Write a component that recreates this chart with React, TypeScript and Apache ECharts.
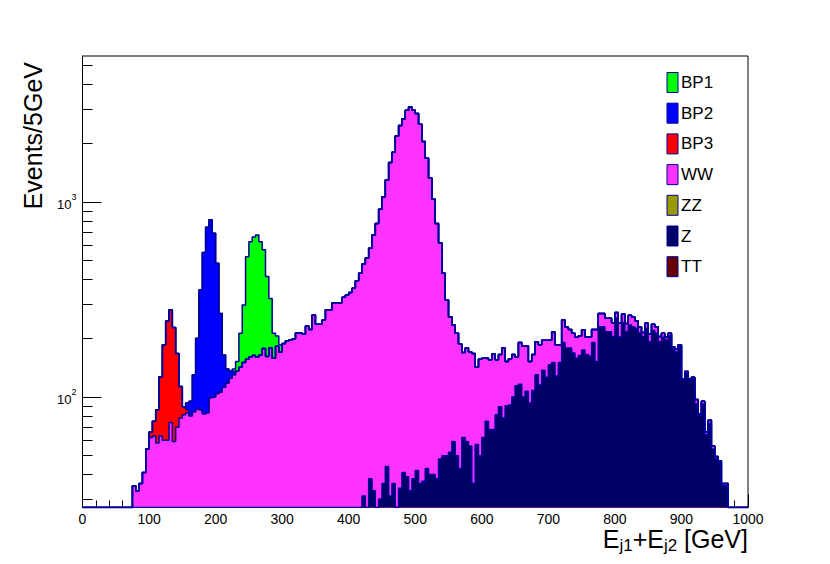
import React, { useEffect, useRef } from 'react';
import * as echarts from 'echarts';

// ---------------- data (5 GeV bins, bin k covers [5k, 5k+5) GeV) ----------------
const BIN_WIDTH = 5;
const N_BINS = 200;
const X_MIN = 0;
const X_MAX = 1000;
const Y_MIN = 27.1;
const Y_MAX = 5600;

const yMajorTicks = [100, 1000];
const yMinorTicks = [30, 40, 50, 60, 70, 80, 90, 200, 300, 400, 500, 600, 700, 800, 900, 2000, 3000, 4000, 5000];

const bp1Start = 45;
const bp1 = [4, 16, 70, 146, 368, 465, 497, 517, 461, 391, 253, 142, 54, 23, 15];

const bp2Start = 31;
const bp2 = [7, 15, 46, 113, 268, 469, 659, 711, 590, 380, 162, 52, 21, 11, 5];

const bp3Start = 20;
const bp3 = [4, 12, 28, 64, 125, 185, 206, 168, 97, 35, 8, 3];

const wwStart = 15;
const ww = [
  35, 33, 36, 41, 54, 62, 63, 58, 63, 60,
  60, 74, 59, 70, 78, 81, 83, 80, 84, 87,
  86, 82, 83, 99, 100, 104, 106, 112, 118, 125,
  130, 136, 142, 150, 156, 160, 163, 160, 164, 177,
  161, 178, 158, 182, 170, 188, 194, 196, 198, 213,
  213, 210, 231, 222, 263, 236, 236, 248, 280, 280,
  304, 304, 304, 324, 333, 343, 361, 394, 431, 450,
  515, 540, 644, 776, 887, 1028, 1252, 1563, 1762, 2179,
  2431, 2629, 2911, 3037, 2912, 2798, 2464, 2003, 1629, 1286,
  992, 738, 569, 381, 264, 206, 175, 162, 144, 107,
  119, 114, 131, 85, 106, 96, 83, 87, 98, 74,
  76, 100, 62, 66, 65, 46, 74, 82, 76, 59,
  57, 62, 70, 58, 69, 49, 65, 57, 35, 58,
  50, 44, 44, 44, 42, 47, 38, 41, 32, 70,
  39, 39, 37, 37, 36, 17, 37, 26, 22, 28,
  29, 21, 15, 10, 14, 18, 17, 17, 12, 10,
  7, 6, 3, 6, 4, 2, 3, 2, 2, 5,
  2, 3, 2, 3, 2, 1.5, 1, 1, 1,
];

const zzStart = 0;
const zz: number[] = [];

const zStart = 84;
const z = [
  31, 0, 38, 33, 0, 30, 36, 44, 31, 36,
  0, 34, 41, 39, 33, 38, 42, 36, 37, 43,
  40, 40, 38, 48, 50, 50, 52, 59, 50, 43,
  62, 59, 56, 36, 57, 50, 62, 75, 68, 68,
  81, 89, 78, 90, 91, 100, 114, 116, 100, 107,
  93, 108, 130, 115, 137, 126, 146, 150, 128, 150,
  190, 178, 178, 168, 158, 163, 174, 165, 162, 190,
  152, 229, 229, 216, 216, 204, 254, 203, 240, 216,
  234, 228, 225, 213, 204, 225, 192, 219, 212, 192,
  202, 196, 206, 178, 170, 181, 122, 132, 122, 124,
  92, 80, 92, 64, 73, 54, 48, 46, 35, 35,
];

const ttStart = 0;
const tt: number[] = [];

// stacking order, bottom first
const stackNames = ['Z', 'ZZ', 'TT', 'WW', 'BP3', 'BP2', 'BP1'];
const stackValues = [z, zz, tt, ww, bp3, bp2, bp1];
const stackStarts = [zStart, zzStart, ttStart, wwStart, bp3Start, bp2Start, bp1Start];

const legendNames = ['BP1', 'BP2', 'BP3', 'WW', 'ZZ', 'Z', 'TT'];
const fillColors: Record<string, string> = {
  BP1: '#00ff00',
  BP2: '#0000ff',
  BP3: '#ff0000',
  WW: '#ff33ff',
  ZZ: '#999900',
  Z: '#000066',
  TT: '#660000',
};
const OUTLINE = '#000099';
const FONT = '"Liberation Sans", Arial, Helvetica, sans-serif';

function expand(values: number[], start: number): number[] {
  const out = new Array(N_BINS).fill(0);
  values.forEach((v, i) => {
    out[start + i] = v;
  });
  return out;
}

function stepPoints(cum: number[]): [number, number][] {
  const f = (v: number) => Math.max(v, Y_MIN);
  const pts: [number, number][] = [[X_MIN, Y_MIN]];
  cum.forEach((v, i) => pts.push([i * BIN_WIDTH, f(v)]));
  pts.push([N_BINS * BIN_WIDTH, f(cum[N_BINS - 1])]);
  pts.push([N_BINS * BIN_WIDTH, Y_MIN]);
  return pts;
}

function buildOption() {
  // cumulative layers
  const layers: { name: string; cum: number[]; empty: boolean }[] = [];
  let running = new Array(N_BINS).fill(0);
  stackNames.forEach((name, idx) => {
    const comp = expand(stackValues[idx], stackStarts[idx]);
    running = running.map((v, i) => v + comp[i]);
    layers.push({ name, cum: running.slice(), empty: stackValues[idx].length === 0 });
  });

  const series = layers
    .filter((l) => !l.empty)
    .reverse()
    .map((l) => ({
      type: 'line',
      name: l.name,
      data: stepPoints(l.cum),
      step: 'end',
      symbol: 'none',
      showSymbol: false,
      clip: true,
      silent: true,
      animation: false,
      lineStyle: { color: OUTLINE, width: 1.5 },
      areaStyle: { color: fillColors[l.name], opacity: 1, origin: 'start' },
      itemStyle: { color: fillColors[l.name] },
      emphasis: { disabled: true },
      z: 2,
    }));

  const legendGraphics: any[] = [];
  legendNames.forEach((name, i) => {
    const cy = 82.5 + i * 30.7;
    legendGraphics.push({
      type: 'rect',
      shape: { x: 667, y: cy - 10, width: 11, height: 20 },
      style: { fill: fillColors[name], stroke: OUTLINE, lineWidth: 1 },
      z: 10,
    });
    legendGraphics.push({
      type: 'text',
      x: 681,
      y: cy,
      style: {
        text: name,
        fill: '#000',
        fontSize: 17,
        fontFamily: FONT,
        align: 'left',
        verticalAlign: 'middle',
      },
      z: 10,
    });
  });

  return {
    animation: false,
    backgroundColor: '#ffffff',
    grid: {
      left: 82.5,
      right: 82,
      top: 56,
      bottom: 56.5,
      show: true,
      borderColor: '#000',
      borderWidth: 1,
      backgroundColor: 'transparent',
      containLabel: false,
      outerBoundsMode: 'none',
    },
    xAxis: {
      type: 'value',
      min: X_MIN,
      max: X_MAX,
      interval: 100,
      axisLine: { show: true, lineStyle: { color: '#000', width: 1 } },
      axisTick: { show: true, inside: true, length: 13, lineStyle: { color: '#000' } },
      minorTick: { show: true, splitNumber: 5, length: 7, lineStyle: { color: '#000' } },
      splitLine: { show: false },
      axisLabel: {
        color: '#000',
        fontSize: 14,
        lineHeight: 14,
        fontFamily: FONT,
        margin: 4,
        showMinLabel: true,
        showMaxLabel: true,
        formatter: (v: number) => String(v),
      },
    },
    yAxis: [
      {
        type: 'log',
        logBase: 10,
        min: Y_MIN,
        max: Y_MAX,
        axisLine: { show: true, lineStyle: { color: '#000', width: 1 } },
        axisTick: { show: true, inside: true, length: 19, customValues: yMajorTicks, lineStyle: { color: '#000' } },
        splitLine: { show: false },
        minorTick: { show: false },
        axisLabel: {
          customValues: yMajorTicks,
          margin: 6,
          formatter: (v: number) => `{b|10}{s|${Math.round(Math.log10(v))}}`,
          rich: {
            b: { fontSize: 13, fontFamily: FONT, color: '#000', padding: [5, 0, 0, 0] },
            s: { fontSize: 9, fontFamily: FONT, color: '#000', verticalAlign: 'top' },
          },
        },
      },
      {
        type: 'log',
        logBase: 10,
        min: Y_MIN,
        max: Y_MAX,
        position: 'left',
        axisLine: { show: false },
        axisTick: { show: true, inside: true, length: 10, customValues: yMinorTicks, lineStyle: { color: '#000' } },
        axisLabel: { show: false },
        splitLine: { show: false },
        minorTick: { show: false },
      },
    ],
    series,
    graphic: [
      ...legendGraphics,
      {
        type: 'text',
        x: 748,
        y: 526,
        style: {
          text: '{e|E}{s|j1}{e|+E}{s|j2}{e| [GeV]}',
          align: 'right',
          verticalAlign: 'top',
          fill: '#000',
          rich: {
            e: { fontSize: 25, fontFamily: FONT, lineHeight: 28, verticalAlign: 'top', fill: '#000' },
            s: { fontSize: 17, fontFamily: FONT, lineHeight: 17, verticalAlign: 'bottom', padding: [15, 0, 0, 0], fill: '#000' },
          },
        },
        z: 10,
      },
      {
        type: 'text',
        x: 33,
        y: 62,
        rotation: Math.PI / 2,
        style: {
          text: 'Events/5GeV',
          align: 'right',
          verticalAlign: 'middle',
          fill: '#000',
          fontSize: 25,
          fontFamily: FONT,
        },
        z: 10,
      },
    ],
  };
}

export default function App() {
  const ref = useRef<HTMLDivElement>(null);
  useEffect(() => {
    if (!ref.current) return;
    const chart = echarts.init(ref.current, null, { renderer: 'svg' });
    chart.setOption(buildOption() as any);
    return () => {
      chart.dispose();
    };
  }, []);
  return (
    <div
      ref={ref}
      style={{ position: 'fixed', left: 0, top: 0, width: 830, height: 564, background: '#fff' }}
    />
  );
}
